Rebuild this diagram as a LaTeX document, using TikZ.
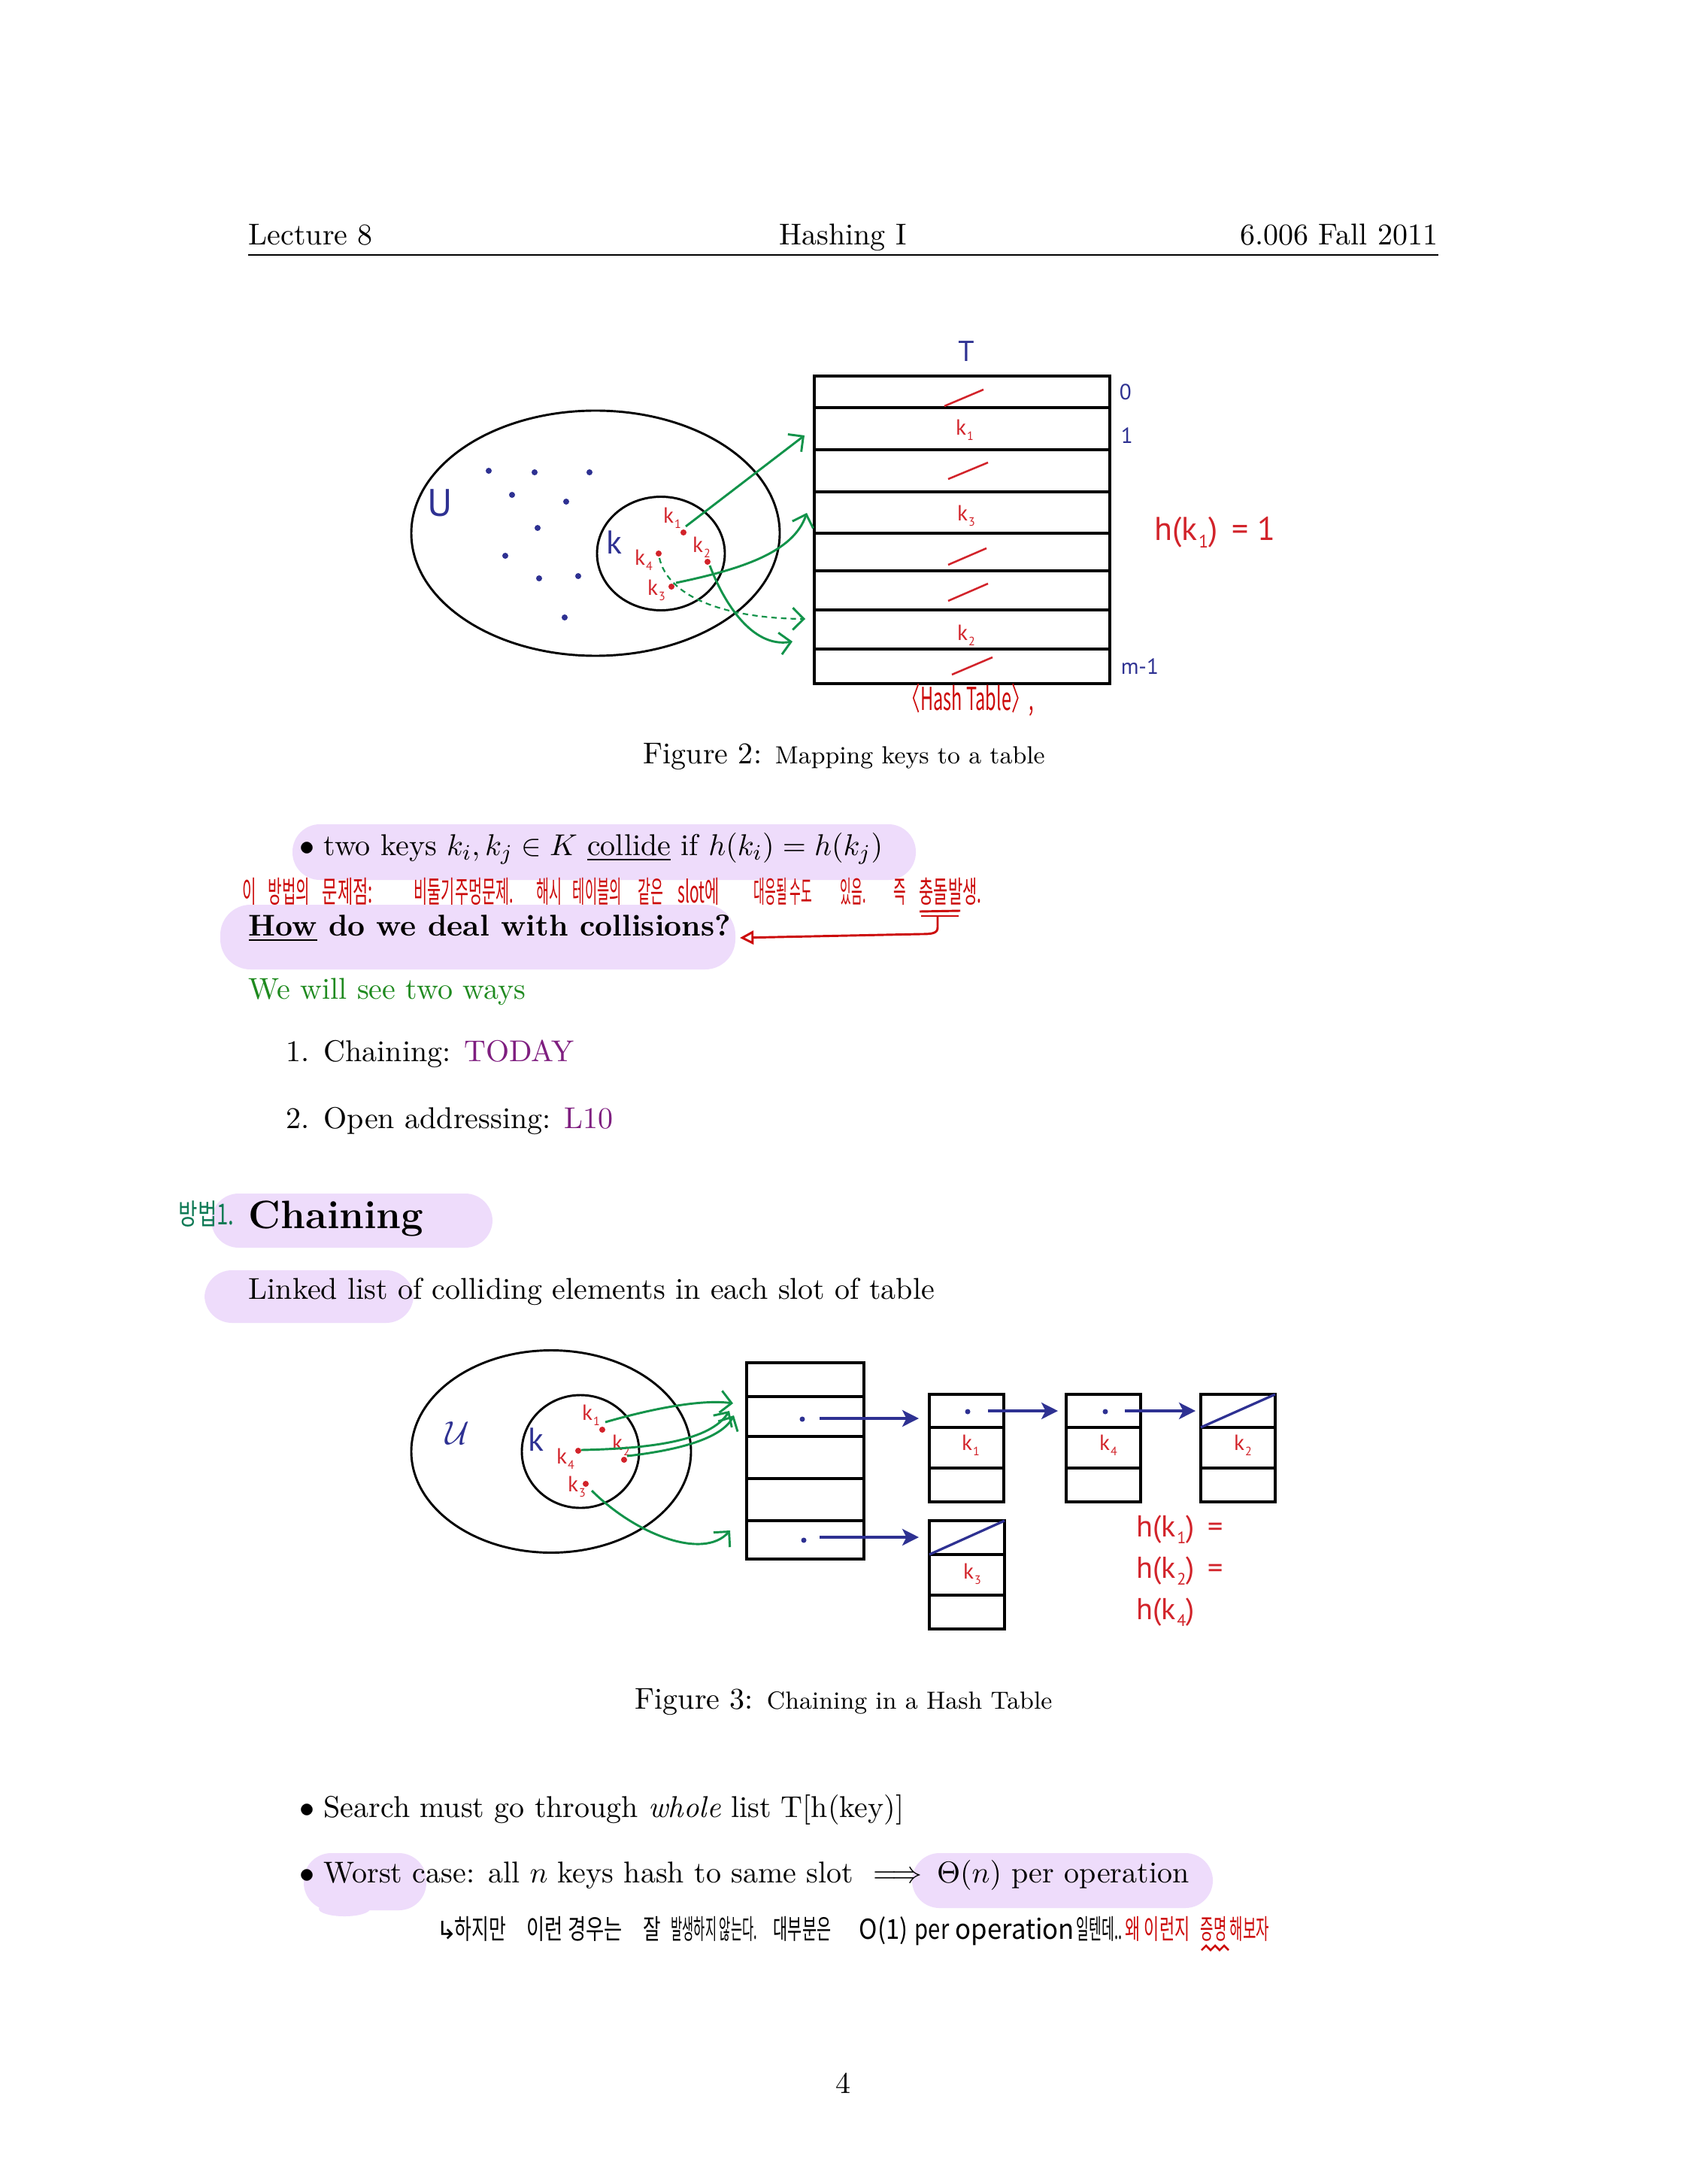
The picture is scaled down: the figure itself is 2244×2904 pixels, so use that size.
\documentclass[tikz,border=0pt]{standalone}
\usepackage{amsmath,amssymb}
\usepackage{fontspec}
\usepackage{graphicx}
\usetikzlibrary{arrows.meta}
\newfontfamily\figsans{PT Sans}
\newfontfamily\kfont{Noto Sans CJK KR}
\newfontfamily\dvfont{DejaVu Sans}
\definecolor{navy}{HTML}{2E3192}
\definecolor{fred}{HTML}{D2232A}
\definecolor{fgreen}{HTML}{12934A}
\definecolor{hwred}{HTML}{CC0A0A}
\definecolor{hwgreen}{HTML}{0F7A55}
\definecolor{hl}{HTML}{EEDCFB}
\definecolor{tgreen}{HTML}{1F8A1F}
\definecolor{tpurple}{HTML}{7F1F80}
\newcommand\bodyfs{\fontsize{10.95}{13.6}\selectfont}
\newcommand\kk[1]{k\kern0.03em\raisebox{-0.45ex}{\scalebox{0.55}{#1}}}
\newcommand\hwk[2][0.62]{\scalebox{#1}[1]{#2}}
\tikzset{
  body/.style={inner sep=0pt, font=\bodyfs},
  bw/.style={body, anchor=base west},
  outl/.style={line width=0.8pt},
  tbl/.style={line width=1pt},
  flab/.style={inner sep=0pt, font=\figsans\fontsize{8}{9}\selectfont},
  tlab/.style={inner sep=0pt, font=\figsans\fontsize{8}{9}\selectfont},
  garr/.style={fgreen, line width=0.8pt, -{Straight Barb[length=4pt, width=8pt, line width=0.8pt]}},
  narr/.style={navy, line width=1.1pt, -{Stealth[length=6pt, width=6pt, inset=1.5pt]}},
  hwA/.style={inner sep=0pt, anchor=base west, text=hwred, font=\kfont\fontsize{11}{12}\selectfont},
  hwB/.style={inner sep=0pt, anchor=base west, text=black, font=\kfont\fontsize{10}{12}\selectfont},
  slash/.style={fred, line width=0.7pt},
}
\begin{document}
\begin{tikzpicture}[x=0.0962121mm, y=-0.0962121mm]
\fill[white] (0,0) rectangle (2244,2904);
\useasboundingbox (0,0) rectangle (2244,2904);

% ---------- header ----------
\node[bw] (hL) at (330,326) {Lecture 8};
\node[body, anchor=base] (hC) at (1121,326) {Hashing I};
\node[body, anchor=base east] (hR) at (1913,326) {6.006 Fall 2011};
\draw[line width=0.5pt] (330,339) -- (1913,339);

% ---------- Figure 2 ----------
\draw[outl] (792,709) ellipse [x radius=245, y radius=163];
\draw[outl] (879,736) ellipse [x radius=85, y radius=75.5];
\node[inner sep=0pt, text=navy, font=\figsans\fontsize{14}{16}\selectfont] (U2) at (585,669) {U};
\node[inner sep=0pt, text=navy, font=\figsans\fontsize{12}{14}\selectfont] (K2) at (817,721) {k};
\foreach \p in {(650,626),(711,628),(784,628),(681,658),(753,667),(715,702),(672,739),(717,769),(769,766),(751,821)}
  \fill[navy] \p circle [radius=4];
% red keys
\coordinate (a1) at (909,708);
\coordinate (a2) at (941,747);
\coordinate (a4) at (876,736);
\coordinate (a3) at (893,780);
\foreach \c in {a1,a2,a3,a4} \fill[fred] (\c) circle [radius=4];
\node[flab, text=fred] (la1) at (894,689) {\kk{1}};
\node[flab, text=fred] (la2) at (933,728) {\kk{2}};
\node[flab, text=fred] (la4) at (856,745) {\kk{4}};
\node[flab, text=fred] (la3) at (873,785) {\kk{3}};
% table
\draw[tbl] (1083,500) rectangle (1476,909);
\foreach \yy in {542,598,654,709,759,811,863} \draw[tbl] (1083,\yy) -- (1476,\yy);
\draw[slash] (1256,540) -- (1308,518);
\draw[slash] (1261,637) -- (1314,615);
\draw[slash] (1261,751) -- (1312,729);
\draw[slash] (1261,799) -- (1314,776);
\draw[slash] (1266,897) -- (1320,874);
\node[tlab, text=fred] (tk1) at (1283,572) {\kk{1}};
\node[tlab, text=fred] (tk3) at (1285,686) {\kk{3}};
\node[tlab, text=fred] (tk2) at (1285,845) {\kk{2}};
\node[tlab, text=navy, anchor=west] (i0) at (1488,521) {0};
\node[tlab, text=navy, anchor=west] (i1) at (1490,579) {1};
\node[tlab, text=navy, anchor=west] (im) at (1490,886) {m-1};
\node[inner sep=0pt, text=navy, font=\figsans\fontsize{10.5}{12}\selectfont] (T) at (1285,467) {T};
\node[inner sep=0pt, text=fred, font=\figsans\fontsize{12}{14}\selectfont] (h1) at (1616,708) {h(\kk{1})\ \,= 1};
\node[inner sep=0pt, text=hwred, font=\kfont\fontsize{11.5}{13}\selectfont] (ht) at (1288,931) {\hwk[0.56]{〈Hash Table〉,}};
% arrows
\coordinate (s1) at (1070,579);
\coordinate (s3) at (1073,682);
\coordinate (s2) at (1054,853);
\coordinate (s4) at (1071,823);
\draw[garr] (a1) ++(3,-8) -- (s1);
\draw[garr] (a3) ++(6,-5) .. controls (985,757) and (1055,735) .. (s3);
\draw[garr] (a2) ++(3,5) .. controls (962,800) and (1000,862) .. (s2);
\draw[fgreen, line width=0.6pt, dash pattern=on 2pt off 1.5pt, -{Straight Barb[length=4pt, width=8pt, line width=0.8pt]}]
  (a4) ++(1,6) .. controls (888,792) and (960,822) .. (s4);
\node[body, anchor=base west] (cap2) at (855,1015) {Figure 2: {\fontsize{9}{11}\selectfont Mapping keys to a table}};

% ---------- collide bullet ----------
\fill[hl, rounded corners=10pt] (389,1096) rectangle (1218,1170);
\node[bw] (bd1) at (398,1137) {$\bullet$};
\node[bw] (b1) at (430,1137) {two keys $k_i, k_j \in K$ \underline{collide} if $h(k_i) = h(k_j)$};

% Korean note 1
\node[hwA] (n1a) at (322,1200) {\hwk[0.5]{이}};
\node[hwA] (n1b) at (356,1200) {\hwk[0.5]{방법의}};
\node[hwA] (n1c) at (428,1200) {\hwk[0.55]{문제점:}};
\node[hwA] (n1d) at (550,1200) {\hwk[0.49]{비둘기주멍문제.}};
\node[hwA] (n1e) at (713,1200) {\hwk[0.46]{해시}};
\node[hwA] (n1f) at (761,1200) {\hwk[0.44]{테이블의}};
\node[hwA] (n1g) at (848,1200) {\hwk[0.46]{같은}};
\node[hwA] (n1h) at (901,1200) {\hwk[0.52]{slot에}};
\node[hwA] (n1i) at (1002,1200) {\hwk[0.4]{대응될 수도}};
\node[hwA] (n1j) at (1117,1200) {\hwk[0.4]{있음.}};
\node[hwA] (n1k) at (1188,1200) {\hwk[0.45]{즉}};
\node[hwA] (n1l) at (1222,1200) {\hwk[0.52]{충돌발생.}};
\draw[hwred, line width=0.8pt] (1223,1212) -- (1277,1211);
\draw[hwred, line width=0.8pt] (1225,1218) -- (1275,1218);
\coordinate (r0) at (1247,1219);
\coordinate (r1) at (984,1247);

% ---------- How ----------
\fill[hl, rounded corners=11pt] (293,1203) rectangle (978,1289);
\node[body, anchor=base west, font=\bodyfs\bfseries] (how) at (330,1244) {\underline{How} do we deal with collisions?};
\draw[hwred, line width=0.8pt, -{Triangle[open, length=5pt, width=5pt, line width=0.8pt]}]
  (r0) -- (1247,1233) .. controls (1247,1241) and (1240,1242) .. (1225,1242) -- (r1);

\node[bw, text=tgreen] (two) at (330,1328) {We will see two ways};
\node[bw] (e1n) at (380,1411) {1.};
\node[bw] (e1) at (430,1411) {Chaining: \textcolor{tpurple}{TODAY}};
\node[bw] (e2n) at (380,1500) {2.};
\node[bw] (e2) at (430,1500) {Open addressing: \textcolor{tpurple}{L10}};

% ---------- Chaining section ----------
\fill[hl, rounded corners=10pt] (281,1587) rectangle (655,1659);
\node[inner sep=0pt, anchor=base west, font=\fontsize{14.4}{18}\selectfont\bfseries] (sec) at (330,1633) {Chaining};
\node[inner sep=0pt, anchor=base west, text=hwgreen, font=\kfont\fontsize{10.5}{12}\selectfont] (m1) at (237,1628) {\hwk[0.72]{방법1.}};
\fill[hl, rounded corners=10pt] (272,1689) rectangle (550,1759);
\node[bw] (ll) at (330,1727) {Linked list of colliding elements in each slot of table};

% ---------- Figure 3 ----------
\draw[outl] (733,1930) ellipse [x radius=186, y radius=134.5];
\draw[outl] (772,1930) ellipse [x radius=78, y radius=75];
\node[inner sep=0pt, text=navy, font=\fontsize{13}{15}\selectfont] (U3) at (608,1906) {$\mathcal{U}$};
\node[inner sep=0pt, text=navy, font=\figsans\fontsize{12}{14}\selectfont] (K3) at (713,1914) {k};
\coordinate (c1) at (801,1901);
\coordinate (c2) at (830,1941);
\coordinate (c4) at (769,1929);
\coordinate (c3) at (779,1973);
\foreach \c in {c1,c2,c3,c4} \fill[fred] (\c) circle [radius=4];
\node[flab, text=fred] (lc1) at (786,1882) {\kk{1}};
\node[flab, text=fred] (lc2) at (826,1922) {\kk{2}};
\node[flab, text=fred] (lc4) at (752,1940) {\kk{4}};
\node[flab, text=fred] (lc3) at (767,1977) {\kk{3}};
% table
\draw[tbl] (993,1812) rectangle (1149,2073);
\foreach \yy in {1857,1910,1966,2022} \draw[tbl] (993,\yy) -- (1149,\yy);
\fill[navy] (1067,1887) circle [radius=3.5];
\fill[navy] (1069,2048) circle [radius=3.5];
% list boxes
\draw[tbl] (1236,1854) rectangle (1335,1997);
\draw[tbl] (1236,1898) -- (1335,1898) (1236,1952) -- (1335,1952);
\draw[tbl] (1418,1854) rectangle (1517,1997);
\draw[tbl] (1418,1898) -- (1517,1898) (1418,1952) -- (1517,1952);
\draw[tbl] (1597,1854) rectangle (1696,1997);
\draw[tbl] (1597,1898) -- (1696,1898) (1597,1952) -- (1696,1952);
\draw[navy, line width=0.9pt] (1597,1898) -- (1696,1854);
\draw[tbl] (1236,2022) rectangle (1336,2166);
\draw[tbl] (1236,2067) -- (1336,2067) (1236,2121) -- (1336,2121);
\draw[navy, line width=0.9pt] (1236,2067) -- (1336,2022);
\fill[navy] (1287,1877) circle [radius=3.5];
\fill[navy] (1470,1877) circle [radius=3.5];
\node[flab, text=fred] (bk1) at (1291,1922) {\kk{1}};
\node[flab, text=fred] (bk4) at (1474,1922) {\kk{4}};
\node[flab, text=fred] (bk2) at (1653,1922) {\kk{2}};
\node[flab, text=fred] (bk3) at (1293,2093) {\kk{3}};
% navy pointer arrows
\coordinate (p0s) at (1090,1886);
\coordinate (p0e) at (1222,1886);
\coordinate (p1s) at (1090,2044);
\coordinate (p1e) at (1222,2044);
\coordinate (p2s) at (1314,1876);
\coordinate (p2e) at (1407,1876);
\coordinate (p3s) at (1496,1876);
\coordinate (p3e) at (1590,1876);
\draw[narr] (p0s) -- (p0e);
\draw[narr] (p1s) -- (p1e);
\draw[narr] (p2s) -- (p2e);
\draw[narr] (p3s) -- (p3e);
% green arrows
\coordinate (g1) at (975,1866);
\coordinate (g4) at (970,1876);
\coordinate (g2) at (976,1882);
\coordinate (g3) at (971,2035);
\draw[garr] (c1) ++(4,-10) .. controls (860,1875) and (930,1860) .. (g1);
\draw[garr] (c4) ++(4,-1) .. controls (870,1926) and (945,1915) .. (g4);
\draw[garr] (c2) ++(4,-5) .. controls (905,1928) and (960,1912) .. (g2);
\draw[garr] (c3) ++(8,9) .. controls (845,2040) and (935,2075) .. (g3);
\node[inner sep=0pt, anchor=base west, text=fred, font=\figsans\fontsize{11}{13}\selectfont] (e1h) at (1511,2043) {h(\kk{1})\, =};
\node[inner sep=0pt, anchor=base west, text=fred, font=\figsans\fontsize{11}{13}\selectfont] (e2h) at (1511,2098) {h(\kk{2})\, =};
\node[inner sep=0pt, anchor=base west, text=fred, font=\figsans\fontsize{11}{13}\selectfont] (e4h) at (1511,2153) {h(\kk{4})};
\node[body, anchor=base west] (cap3) at (844,2272) {Figure 3: {\fontsize{9}{11}\selectfont Chaining in a Hash Table}};

% ---------- bottom bullets ----------
\node[bw] (bd2) at (398,2416) {$\bullet$};
\node[bw] (b2) at (430,2416) {Search must go through \emph{whole} list T[h(key)]};
\fill[hl, rounded corners=10pt] (404,2464) rectangle (567,2540);
\fill[hl] (458,2538) ellipse [x radius=34, y radius=10];
\fill[hl, rounded corners=10pt] (1213,2464) rectangle (1613,2537);
\node[bw] (bd3) at (398,2503) {$\bullet$};
\node[bw] (b3) at (430,2503) {Worst case: all $n$ keys hash to same slot \ $\Longrightarrow$\ \,$\Theta(n)$ per operation};

% Korean note 2
\node[hwB, font=\dvfont\fontsize{9}{10}\selectfont] (n2a) at (580,2578) {↳};
\node[hwB] (n2b) at (604,2578) {\hwk[0.68]{하지만}};
\node[hwB] (n2c) at (700,2578) {\hwk[0.72]{이런 경우는}};
\node[hwB] (n2d) at (855,2578) {\hwk[0.7]{잘}};
\node[hwB] (n2e) at (892,2578) {\hwk[0.45]{발생하지 않는다.}};
\node[hwB] (n2f) at (1028,2578) {\hwk[0.57]{대부분은}};
\node[hwB] (n2g) at (1142,2578) {\hwk[0.9]{O(1)}};
\node[hwB] (n2h) at (1216,2578) {\hwk[0.8]{per}};
\node[hwB] (n2i) at (1270,2578) {\hwk[0.95]{operation}};
\node[hwB] (n2j) at (1431,2578) {\hwk[0.5]{일텐데..}};
\node[hwB, text=hwred] (n2k) at (1496,2578) {\hwk[0.6]{왜 이런지}};
\node[hwB, text=hwred] (n2l) at (1596,2578) {\hwk[0.52]{증명 해보자}};
\draw[hwred, line width=0.7pt] (1598,2593) -- (1604,2587) -- (1610,2593) -- (1616,2587) -- (1622,2593) -- (1628,2587) -- (1634,2593);

\node[body, anchor=base] (pg) at (1121,2783) {4};
\end{tikzpicture}
\end{document}
